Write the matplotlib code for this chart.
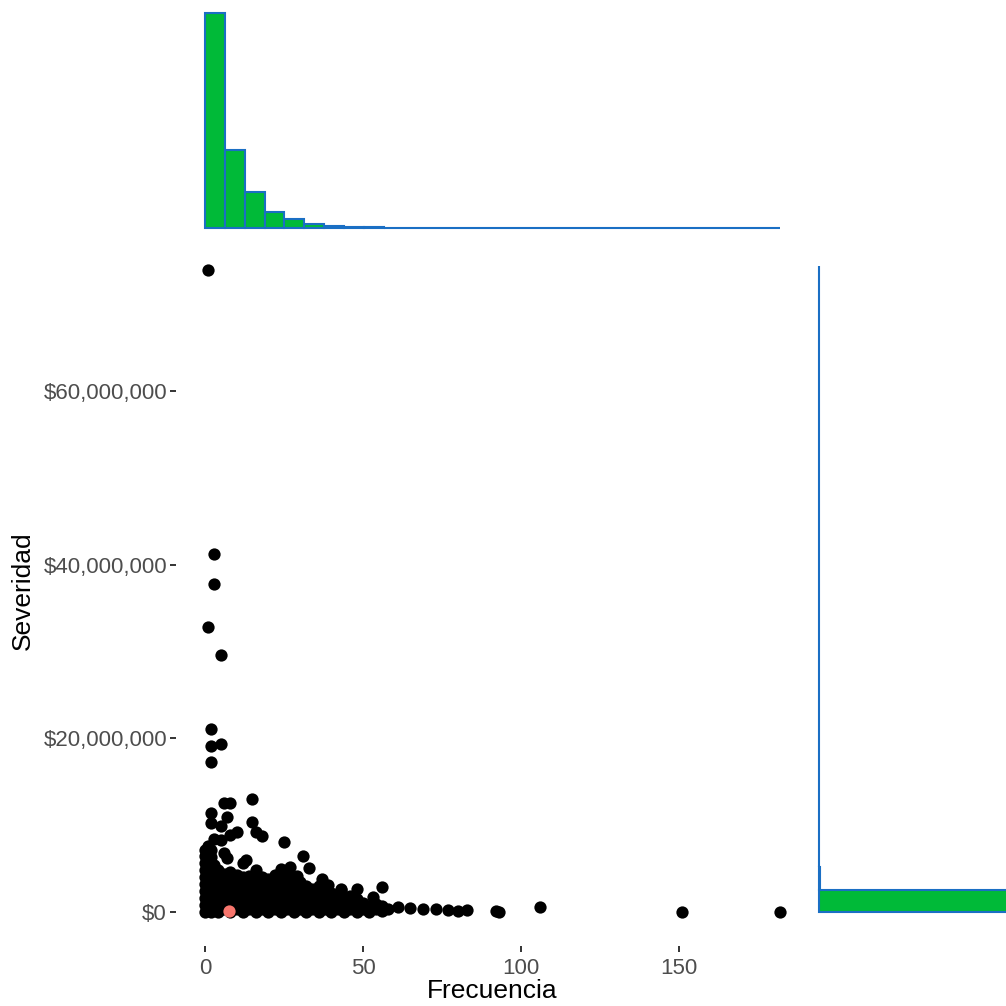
import numpy as np
import matplotlib
matplotlib.use("Agg")
import matplotlib.pyplot as plt
from matplotlib.ticker import FuncFormatter

plt.rcParams['font.family'] = ['Liberation Sans', 'DejaVu Sans']

# siniestros: frecuencia (numero de reclamos) y severidad (millones de $)
freq_extremos = [1, 3, 3, 1, 5, 2, 2, 5, 2]
sev_extremos = [74.0, 41.2, 37.8, 32.8, 29.6, 21.1, 19.1, 19.4, 17.3]

freq_altos = [6, 8, 15, 2, 7, 15, 2, 5, 10, 8, 16, 18, 25, 3, 5, 2, 6, 7, 12, 13,
              31, 33, 16, 24, 27, 18, 29, 37, 39, 43, 31, 43, 48, 56, 53, 45]
sev_altos = [12.6, 12.6, 13.0, 11.4, 10.9, 10.4, 10.3, 9.9, 9.25, 8.9, 9.25, 8.8, 8.1,
             8.4, 8.3, 7.1, 6.75, 6.2, 5.7, 6.0, 6.45, 5.1, 4.85, 5.0, 5.15, 4.0, 4.15,
             3.75, 3.1, 2.5, 2.7, 2.65, 2.6, 2.85, 1.77, 1.6]

freq_masa = [0, 0, 0, 0, 0, 0, 0, 0, 0, 0,
             1, 1, 1, 1, 1, 1, 1, 1, 1, 1,
             2, 2, 2, 2, 2, 2, 2, 2, 2,
             3, 3, 3, 3, 3, 3, 3,
             4, 4, 4, 4, 4, 4, 4,
             6, 6, 6, 6, 6, 6,
             8, 8, 8, 8, 8, 8, 8,
             10, 10, 10, 10, 10, 10,
             12, 12, 12, 12, 12, 12,
             14, 14, 14, 14, 14, 14,
             16, 16, 16, 16, 16, 16,
             18, 18, 18, 18, 18,
             20, 20, 20, 20, 20, 20,
             22, 22, 22, 22, 22, 22,
             24, 24, 24, 24, 24, 24,
             26, 26, 26, 26, 26, 26,
             28, 28, 28, 28, 28, 28,
             30, 30, 30, 30, 30,
             32, 32, 32, 32, 32,
             34, 34, 34, 34,
             36, 36, 36, 36, 36,
             38, 38, 38, 38,
             40, 40, 40, 40,
             42, 42, 42,
             44, 44, 44,
             46, 46, 46,
             48, 48, 48,
             50, 50,
             52, 52,
             54, 54,
             56, 56,
             58]
sev_masa = [0.0, 0.8, 1.6, 2.4, 3.2, 4.0, 4.8, 5.6, 6.4, 7.2,
            0.4, 1.2, 2.0, 2.8, 3.6, 4.4, 5.2, 6.0, 6.8, 7.6,
            0.0, 0.8, 1.6, 2.4, 3.2, 4.0, 4.8, 5.6, 6.3,
            0.4, 1.2, 2.0, 2.8, 3.6, 4.4, 5.4,
            0.0, 0.8, 1.6, 2.4, 3.2, 4.0, 4.8,
            0.4, 1.2, 2.0, 2.8, 3.6, 4.4,
            0.0, 0.8, 1.6, 2.4, 3.2, 4.0, 4.6,
            0.4, 1.2, 2.0, 2.8, 3.6, 4.3,
            0.0, 0.8, 1.6, 2.4, 3.2, 4.0,
            0.4, 1.2, 2.0, 2.8, 3.6, 4.2,
            0.0, 0.8, 1.6, 2.4, 3.2, 3.9,
            0.4, 1.2, 2.0, 2.8, 3.4,
            0.0, 0.8, 1.6, 2.4, 3.2, 3.8,
            0.4, 1.2, 2.0, 2.8, 3.6, 4.3,
            0.0, 0.8, 1.6, 2.4, 3.2, 4.0,
            0.4, 1.2, 2.0, 2.8, 3.6, 4.4,
            0.0, 0.8, 1.6, 2.4, 3.2, 3.9,
            0.4, 1.2, 2.0, 2.8, 3.5,
            0.0, 0.8, 1.6, 2.4, 3.0,
            0.4, 1.2, 2.0, 2.7,
            0.0, 0.8, 1.6, 2.4, 3.0,
            0.4, 1.2, 2.0, 2.5,
            0.0, 0.8, 1.6, 2.2,
            0.4, 1.2, 1.9,
            0.0, 0.8, 1.6,
            0.4, 1.2, 1.8,
            0.0, 0.8, 1.5,
            0.3, 1.0,
            0.0, 0.7,
            0.3, 0.9,
            0.1, 0.6,
            0.3]

freq_cola = [56, 61, 65, 69, 73, 77, 80, 83, 92, 93, 106, 151, 182]
sev_cola = [0.7, 0.58, 0.46, 0.35, 0.35, 0.23, 0.1, 0.23, 0.1, 0.05, 0.55, 0.0, 0.0]

# punto promedio
freq_media = 7.6
sev_media = 0.1

# histograma de frecuencia (29 clases entre 0 y 182)
conteo_freq = [6000, 2180, 1005, 447, 251, 112, 56, 28, 14, 8, 5, 4, 3, 2, 2,
               1, 1, 0, 0, 0, 0, 0, 0, 1, 0, 0, 0, 0, 1]
bordes_freq = np.linspace(0, 182, 30)

# histograma de severidad (29 clases entre 0 y 74.5 millones)
conteo_sev = [10050, 40, 15, 10, 6, 1, 1, 2, 1, 0, 0, 1, 1, 0, 1, 0, 1,
              0, 0, 0, 0, 0, 0, 0, 0, 0, 0, 0, 1]
bordes_sev = np.linspace(0, 74.5e6, 30)

verde = '#00BA38'
azul = '#1A6FC4'
gris_txt = '#4D4D4D'
gris_tick = '#333333'

W = 1006.0
fig = plt.figure(figsize=(10.06, 10.06), dpi=100)

def caja(x0, y0, x1, y1):
    return [x0 / W, 1 - y1 / W, (x1 - x0) / W, (y1 - y0) / W]

xlim = (-9.18, 190.8)
ylim = (-3.92e6, 77.9e6)

# --- dispersion principal ---
ax = fig.add_axes(caja(176, 236, 808, 946))
freq = np.array(freq_masa + freq_altos + freq_extremos + freq_cola)
sev = np.array(sev_masa + sev_altos + sev_extremos + sev_cola) * 1e6
ax.scatter(freq, sev, s=78, color='black', linewidths=0, zorder=2)
ax.scatter([freq_media], [sev_media * 1e6], s=78, color='#F8766D', linewidths=0, zorder=3)
ax.set_xlim(*xlim)
ax.set_ylim(*ylim)
for s in ax.spines.values():
    s.set_visible(False)
ax.set_xticks([0, 50, 100, 150])
ax.set_yticks([0, 20e6, 40e6, 60e6])
ax.yaxis.set_major_formatter(FuncFormatter(lambda v, p: '${:,.0f}'.format(v)))
ax.tick_params(axis='both', colors=gris_tick, labelcolor=gris_txt, labelsize=16,
               length=4.5, width=1.4)
ax.tick_params(axis='y', pad=2)
ax.tick_params(axis='x', pad=4)
ax.set_xlabel('Frecuencia', fontsize=19, color='black', labelpad=0)
ax.set_ylabel('Severidad', fontsize=19, color='black', labelpad=6)

# --- histograma superior ---
axt = fig.add_axes(caja(176, 0, 808, 232))
anchos = np.diff(bordes_freq)
axt.bar(bordes_freq[:-1], conteo_freq, width=anchos, align='edge',
        color=verde, edgecolor=azul, linewidth=1.5)
c = conteo_freq[0]
axt.set_xlim(*xlim)
axt.set_ylim(-4 / 215 * c, c + 13 / 215 * c)
axt.axis('off')

# --- histograma derecho ---
axr = fig.add_axes(caja(817, 236, 1006, 946))
altos = np.diff(bordes_sev)
axr.barh(bordes_sev[:-1], conteo_sev, height=altos, align='edge',
         color=verde, edgecolor=azul, linewidth=1.5)
c = conteo_sev[0]
axr.set_xlim(-0.01 * c, 0.9 * c)
axr.set_ylim(*ylim)
axr.axis('off')

fig.savefig('out.png', dpi=100)
